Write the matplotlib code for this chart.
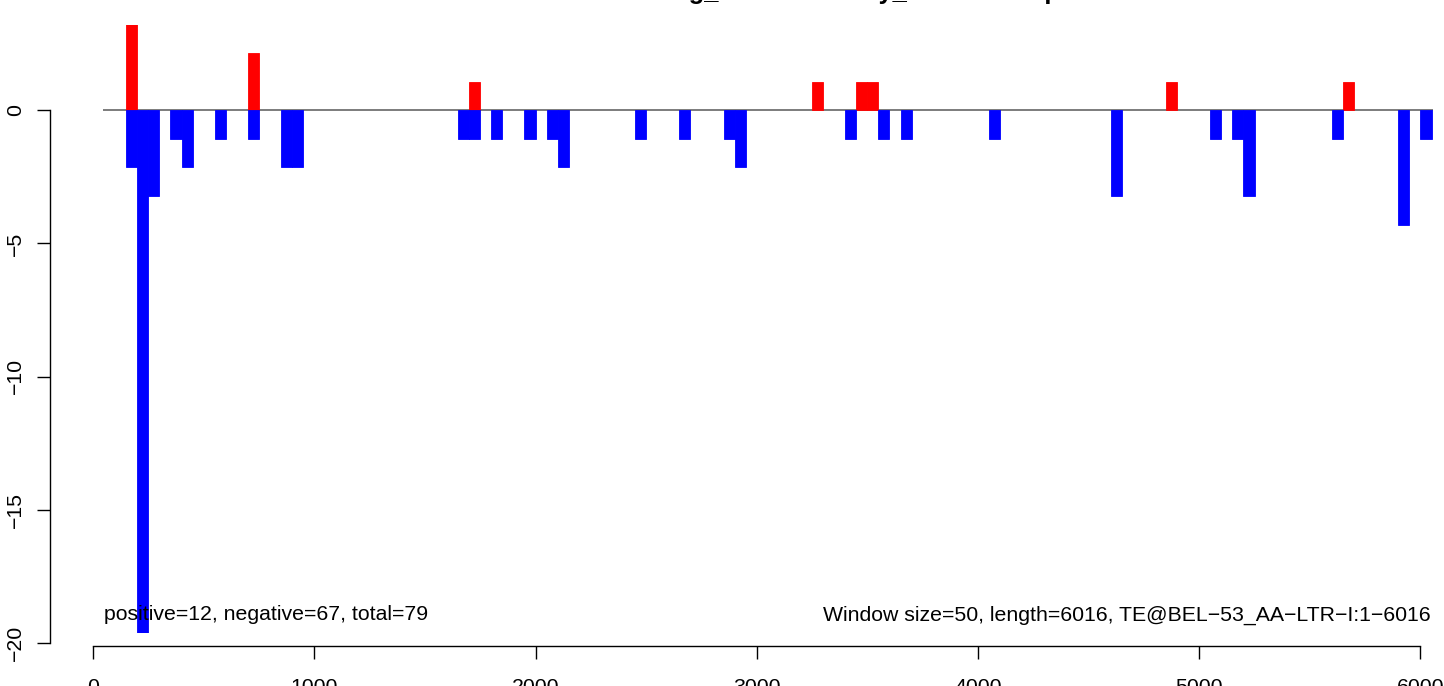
import matplotlib
matplotlib.use("Agg")
import matplotlib.pyplot as plt
from matplotlib.patches import Rectangle

plt.rcParams['font.family'] = ['Liberation Sans', 'DejaVu Sans']

# window start positions and read counts (window size 50)
pos_start = [150, 700, 1700, 3250, 3450, 3500, 4850, 5650]
pos_count = [4, 2, 1, 1, 1, 1, 1, 1]

neg_start = [150, 200, 250, 350, 400, 550, 700, 850, 900, 1650, 1700, 1800,
             1950, 2050, 2100, 2450, 2650, 2850, 2900, 3400, 3550, 3650, 4050,
             4600, 5050, 5150, 5200, 5600, 5900, 6000]
neg_count = [2, 23, 3, 1, 2, 1, 1, 2, 2, 1, 1, 1,
             1, 1, 2, 1, 1, 1, 2, 1, 1, 1, 1,
             3, 1, 1, 3, 1, 4, 1]

window = 50
x_ticks = [0, 1000, 2000, 3000, 4000, 5000, 6000]
y_ticks = [0, -5, -10, -15, -20]

title = "Small RNA binding_strand density_window map"
left_note = "positive=12, negative=67, total=79"
right_note = "Window size=50, length=6016, TE@BEL\u221253_AA\u2212LTR\u2212I:1\u22126016"

W, H = 1444, 686
fig = plt.figure(figsize=(W / 100, H / 100), dpi=100)


def box(l, t, r, b):
    return [l / W, 1 - b / H, (r - l) / W, (b - t) / H]


ax = fig.add_axes(box(50, 25, 1433, 646))
ax.patch.set_alpha(0)

# pixel scales
kx = 1327.5 / 6000      # px per bp
ky = 28.6               # px per read
tick_scale = 26.62 / ky  # axis units vs. bar units
y0 = 110.3
ax.set_xlim((50 - 93) / kx, (1433 - 93) / kx)
ax.set_ylim(-(646 - y0) / ky, (y0 - 25) / ky)

# plot region used for clipping
cx0, cx1 = (103.3 - 93) / kx, (1433 - 93) / kx
cy0, cy1 = -(632.7 - y0) / ky, (y0 - 25) / ky
clip = Rectangle((cx0, cy0), cx1 - cx0, cy1 - cy0, transform=ax.transData)

line, = ax.plot([cx0, cx1], [0, 0], color='#666666', lw=1.2, zorder=1)
line.set_clip_path(clip)

bars_p = ax.bar(pos_start, pos_count, width=window, align='edge',
                color='#FF0000', edgecolor='#FF0000', lw=0.6, zorder=2)
bars_n = ax.bar(neg_start, [-c for c in neg_count], width=window, align='edge',
                color='#0000FF', edgecolor='#0000FF', lw=0.6, zorder=2)
for b in list(bars_p) + list(bars_n):
    b.set_clip_path(clip)

fs = 15.3
ax.text((104 - 93) / kx, -(615 - y0) / ky, left_note, ha='left', va='center',
        fontsize=fs, zorder=3)
ax.text((1430.5 - 93) / kx, -(615 - y0) / ky, right_note, ha='right', va='center',
        fontsize=fs, zorder=3)

for s in ['top', 'right']:
    ax.spines[s].set_visible(False)
ax.spines['left'].set_bounds(y_ticks[-1] * tick_scale, 0)
ax.spines['bottom'].set_bounds(x_ticks[0], x_ticks[-1])
for s in ['left', 'bottom']:
    ax.spines[s].set_linewidth(1.0)

ax.set_xticks(x_ticks)
ax.set_xticklabels([str(v) for v in x_ticks])
ax.set_yticks([v * tick_scale for v in y_ticks])
ax.set_yticklabels([str(v).replace('-', '\u2212') for v in y_ticks])
ax.tick_params(axis='both', direction='out', length=9.4, width=1.0,
               labelsize=fs)
ax.tick_params(axis='x', pad=13.5)
ax.tick_params(axis='y', pad=8.5)
for lbl in ax.get_yticklabels():
    lbl.set_rotation(90)
    lbl.set_va('center')

# title sits mostly above the picture edge, only descenders show
fig.text(768 / W, 1 + 0.5 / H, title, ha='center', va='baseline',
         fontsize=fs * 1.2, fontweight='bold')

fig.savefig('out.png', dpi=100)
